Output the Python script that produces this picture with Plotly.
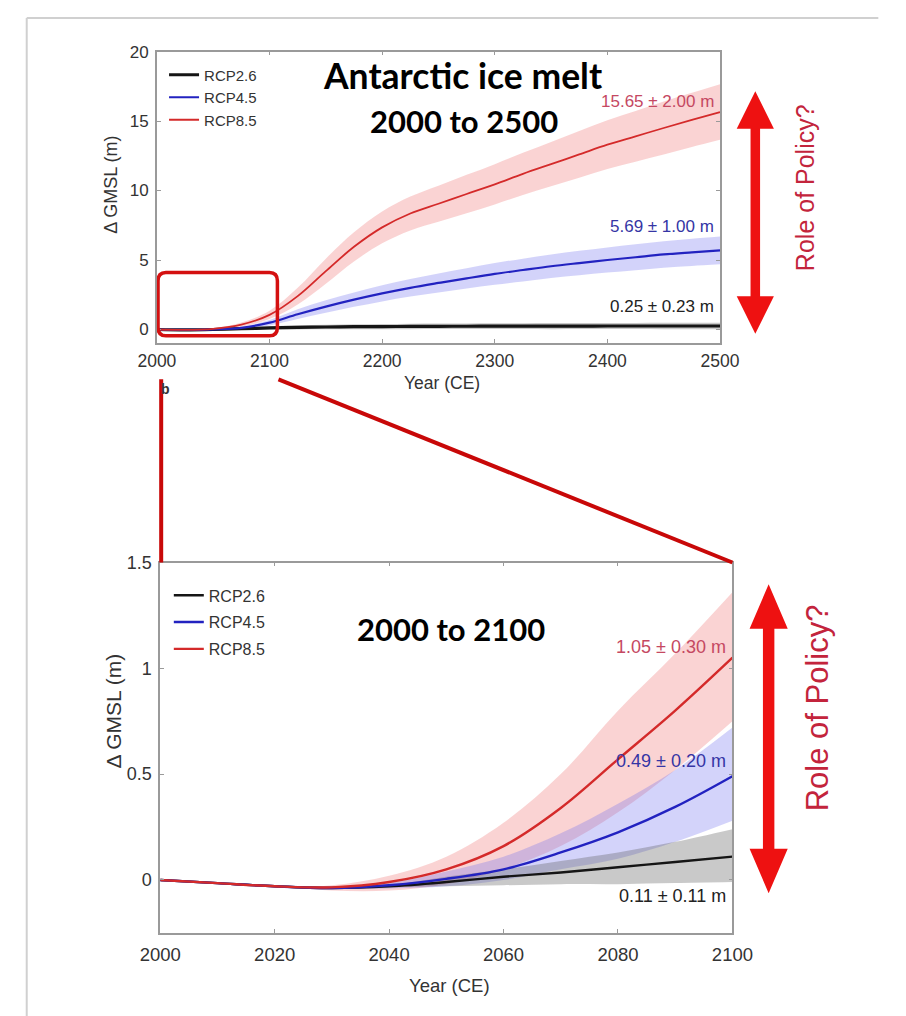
import plotly.graph_objects as go

W, H = 906, 1016

# ---------------- data ----------------
years_top = [2000, 2025, 2050, 2075, 2100, 2125, 2150, 2175, 2200, 2225, 2250, 2275, 2300,
             2325, 2350, 2375, 2400, 2425, 2450, 2475, 2500]
rcp26_top = [0, -0.03, 0.0, 0.06, 0.11, 0.15, 0.18, 0.20, 0.21, 0.22, 0.23, 0.235, 0.24,
             0.243, 0.245, 0.248, 0.25, 0.25, 0.25, 0.25, 0.25]
rcp45_top = [0, -0.03, 0.01, 0.12, 0.49, 1.10, 1.65, 2.15, 2.60, 3.00, 3.35, 3.68, 4.00,
             4.28, 4.55, 4.78, 5.00, 5.20, 5.40, 5.55, 5.69]
rcp85_top = [0, -0.03, 0.05, 0.35, 1.05, 2.40, 4.20, 5.95, 7.35, 8.35, 9.05, 9.75, 10.45,
             11.20, 11.90, 12.60, 13.30, 13.90, 14.50, 15.08, 15.65]
rcp26_unc_top = [0, 0.01, 0.02, 0.05, 0.11, 0.15, 0.17, 0.18, 0.19, 0.20, 0.20, 0.20, 0.21,
                 0.21, 0.22, 0.22, 0.22, 0.22, 0.23, 0.23, 0.23]
rcp45_unc_top = [0, 0.01, 0.03, 0.08, 0.20, 0.35, 0.45, 0.52, 0.58, 0.63, 0.68, 0.73, 0.78,
                 0.82, 0.85, 0.88, 0.90, 0.93, 0.95, 0.98, 1.00]
rcp85_unc_top = [0, 0.01, 0.05, 0.15, 0.30, 0.60, 0.90, 1.05, 1.15, 1.22, 1.30, 1.38, 1.45,
                 1.52, 1.60, 1.68, 1.75, 1.82, 1.90, 1.95, 2.00]

years_bot = [2000, 2010, 2020, 2030, 2040, 2050, 2060, 2070, 2080, 2090, 2100]
rcp26_bot = [0, -0.015, -0.03, -0.038, -0.03, -0.01, 0.015, 0.035, 0.06, 0.085, 0.11]
rcp45_bot = [0, -0.015, -0.03, -0.038, -0.025, 0.005, 0.05, 0.13, 0.225, 0.345, 0.49]
rcp85_bot = [0, -0.015, -0.03, -0.035, -0.01, 0.05, 0.16, 0.34, 0.57, 0.80, 1.05]
rcp26_lo_bot = [0, -0.015, -0.03, -0.04, -0.035, -0.03, -0.025, -0.02, -0.02, -0.015, -0.01]
rcp26_hi_bot = [0, -0.015, -0.03, -0.036, -0.025, 0.015, 0.05, 0.09, 0.13, 0.18, 0.24]
rcp45_lo_bot = [0, -0.015, -0.03, -0.04, -0.04, -0.03, 0.0, 0.05, 0.10, 0.18, 0.28]
rcp45_hi_bot = [0, -0.015, -0.03, -0.036, -0.015, 0.04, 0.11, 0.22, 0.36, 0.52, 0.72]
rcp85_lo_bot = [0, -0.015, -0.03, -0.05, -0.05, -0.02, 0.05, 0.16, 0.32, 0.52, 0.75]
rcp85_hi_bot = [0, -0.015, -0.03, -0.025, 0.02, 0.11, 0.27, 0.50, 0.80, 1.07, 1.36]

labels_top = ["15.65 ± 2.00 m", "5.69 ± 1.00 m", "0.25 ± 0.23 m"]
labels_bot = ["1.05 ± 0.30 m", "0.49 ± 0.20 m", "0.11 ± 0.11 m"]
scenarios = ["RCP2.6", "RCP4.5", "RCP8.5"]

# ---------------- styles ----------------
LINE_C = {"RCP2.6": "#151515", "RCP4.5": "#2222c0", "RCP8.5": "#d42a2a"}
BAND_C = {"RCP2.6": "rgba(90,90,90,0.33)", "RCP4.5": "rgba(110,110,240,0.30)", "RCP8.5": "rgba(240,110,110,0.30)"}
TXT_C = {"RCP2.6": "#222222", "RCP4.5": "#3535a5", "RCP8.5": "#c54862"}
ARIAL = "Arial, Liberation Sans, sans-serif"
CAL = "Lato, Carlito, Calibri, sans-serif"


def X(px):
    return px / W


def Y(py):
    return 1 - py / H


fig = go.Figure()

# top panel bands + lines
top_series = {"RCP2.6": (rcp26_top, rcp26_unc_top), "RCP4.5": (rcp45_top, rcp45_unc_top),
              "RCP8.5": (rcp85_top, rcp85_unc_top)}
for name in ["RCP8.5", "RCP4.5", "RCP2.6"]:
    v, u = top_series[name]
    lo = [a - b for a, b in zip(v, u)]
    hi = [a + b for a, b in zip(v, u)]
    fig.add_trace(go.Scatter(x=years_top, y=lo, mode="lines", line=dict(width=0, shape="spline"),
                             showlegend=False, hoverinfo="skip", xaxis="x", yaxis="y"))
    fig.add_trace(go.Scatter(x=years_top, y=hi, mode="lines", line=dict(width=0, shape="spline"),
                             fill="tonexty", fillcolor=BAND_C[name], showlegend=False,
                             hoverinfo="skip", xaxis="x", yaxis="y"))
widths_top = {"RCP2.6": 3.2, "RCP4.5": 2.2, "RCP8.5": 1.8}
for name in scenarios:
    v, _ = top_series[name]
    fig.add_trace(go.Scatter(x=years_top, y=v, mode="lines", name=name,
                             line=dict(color=LINE_C[name], width=widths_top[name], shape="spline"),
                             xaxis="x", yaxis="y", legend="legend"))

# bottom panel
bot_series = {"RCP2.6": (rcp26_bot, rcp26_lo_bot, rcp26_hi_bot),
              "RCP4.5": (rcp45_bot, rcp45_lo_bot, rcp45_hi_bot),
              "RCP8.5": (rcp85_bot, rcp85_lo_bot, rcp85_hi_bot)}
for name in ["RCP8.5", "RCP4.5", "RCP2.6"]:
    v, lo, hi = bot_series[name]
    fig.add_trace(go.Scatter(x=years_bot, y=lo, mode="lines", line=dict(width=0, shape="spline"),
                             showlegend=False, hoverinfo="skip", xaxis="x2", yaxis="y2"))
    fig.add_trace(go.Scatter(x=years_bot, y=hi, mode="lines", line=dict(width=0, shape="spline"),
                             fill="tonexty", fillcolor=BAND_C[name], showlegend=False,
                             hoverinfo="skip", xaxis="x2", yaxis="y2"))
for name in scenarios:
    v, _, _ = bot_series[name]
    fig.add_trace(go.Scatter(x=years_bot, y=v, mode="lines", name=name, legendgroup="b" + name,
                             line=dict(color=LINE_C[name], width=2.4, shape="spline"),
                             xaxis="x2", yaxis="y2", legend="legend2"))


def axis_style(size):
    return dict(showline=True, linecolor="#9a9a9a", linewidth=1.5, mirror="ticks",
                ticks="inside", ticklen=4, tickcolor="#9a9a9a", showgrid=False, zeroline=False,
                tickfont=dict(family=ARIAL, size=size, color="#333333"))


fig.update_layout(
    width=W, height=H, margin=dict(l=0, r=0, t=0, b=0),
    paper_bgcolor="white", plot_bgcolor="white",
    xaxis=dict(domain=[X(142.5), X(733)], range=[2000, 2500], tickvals=[2000, 2100, 2200, 2300, 2400, 2500],
               anchor="y", ticklabelstandoff=2, **axis_style(17.5)),
    yaxis=dict(domain=[Y(336), Y(42)], range=[-0.95, 20], tickvals=[0, 5, 10, 15, 20],
               anchor="x", ticklabelstandoff=3, **axis_style(17)),
    xaxis2=dict(domain=[X(146), X(746)], range=[2000, 2100], tickvals=list(range(2000, 2101, 20)),
                anchor="y2", ticklabelstandoff=4, **axis_style(18.5)),
    yaxis2=dict(domain=[Y(932), Y(558)], range=[-0.25, 1.5], tickvals=[0, 0.5, 1, 1.5],
                ticktext=["0", "0.5", "1", "1.5"], anchor="x2", ticklabelstandoff=3, **axis_style(18)),
    legend=dict(x=X(150), y=Y(49), xanchor="left", yanchor="top", bgcolor="rgba(0,0,0,0)",
                font=dict(family=ARIAL, size=15, color="#333333"),
                itemwidth=30, traceorder="normal"),
    legend2=dict(x=X(155), y=Y(574), xanchor="left", yanchor="top", bgcolor="rgba(0,0,0,0)",
                 font=dict(family=ARIAL, size=16, color="#333333"), tracegroupgap=3,
                 itemwidth=30, traceorder="grouped"),
    showlegend=True,
)

ann = []


def text(s, px, py, size, color, family=ARIAL, xanchor="center", bold=False, angle=0):
    ann.append(dict(text=("<b>%s</b>" % s) if bold else s, x=X(px), y=Y(py), xref="paper", yref="paper",
                    xanchor=xanchor, yanchor="middle", showarrow=False, textangle=angle,
                    font=dict(family=family, size=size, color=color)))


text("Antarctic ice melt", 463, 66, 35.5, "#000000", family=CAL, bold=True)
text("2000 to 2500", 465, 112, 31, "#000000", family=CAL, bold=True)
text("2000 to 2100", 451, 625, 31, "#000000", family=CAL, bold=True)

for s, py, name in zip(labels_top, [92, 219, 299], ["RCP8.5", "RCP4.5", "RCP2.6"]):
    text(s, 729, py, 17, TXT_C[name], xanchor="right")
for s, py, name in zip(labels_bot, [643, 758, 895], ["RCP8.5", "RCP4.5", "RCP2.6"]):
    text(s, 741, py, 18, TXT_C[name], xanchor="right")

text("Year (CE)", 441, 377, 17.5, "#333333")
text("Year (CE)", 449, 985, 18.5, "#333333")
text("Δ GMSL (m)", 95, 177, 18, "#333333", angle=-90)
text("Δ GMSL (m)", 97, 708, 21, "#333333", angle=-90)
text("Role of Policy?", 822, 179, 25, "#c3243c", angle=-90)
text("Role of Policy?", 835, 705, 31, "#c3243c", angle=-90)
text("b", 152, 383, 14, "#333333", bold=True)

fig.update_layout(annotations=ann)

shapes = []


def arrow(cx, top, bottom, hw, hl, sw):
    pts = [(cx, top), (cx + hw, top + hl), (cx + sw, top + hl), (cx + sw, bottom - hl),
           (cx + hw, bottom - hl), (cx, bottom), (cx - hw, bottom - hl), (cx - sw, bottom - hl),
           (cx - sw, top + hl), (cx - hw, top + hl)]
    path = "M " + " L ".join("%.5f,%.5f" % (X(a), Y(b)) for a, b in pts) + " Z"
    shapes.append(dict(type="path", path=path, xref="paper", yref="paper",
                       fillcolor="#ee1111", line=dict(width=0)))


arrow(770, 82, 327, 19.5, 38, 5)
arrow(784, 580, 892, 20, 45, 6)

# zoom box on top panel (data coordinates)
bx0, bx1, by0, by1 = 2001, 2107, -0.45, 4.1
rx, ry = 7.0, 0.6
box = ("M {a},{y0} L {b},{y0} Q {x1},{y0} {x1},{c} L {x1},{d} Q {x1},{y1} {b},{y1} "
       "L {a},{y1} Q {x0},{y1} {x0},{d} L {x0},{c} Q {x0},{y0} {a},{y0} Z").format(
    a=bx0 + rx, b=bx1 - rx, c=by0 + ry, d=by1 - ry, x0=bx0, x1=bx1, y0=by0, y1=by1)
shapes.append(dict(type="path", path=box, xref="x", yref="y", line=dict(color="#d41010", width=3.5)))

# connector lines
shapes.append(dict(type="line", xref="paper", yref="paper", x0=X(147), y0=Y(373), x1=X(147), y1=Y(558),
                   line=dict(color="#c80808", width=4)))
shapes.append(dict(type="line", xref="paper", yref="paper", x0=X(270), y0=Y(373), x1=X(746), y1=Y(558),
                   line=dict(color="#c80808", width=4)))
# outer frame
shapes.append(dict(type="line", xref="paper", yref="paper", x0=X(6), y0=Y(8), x1=X(6), y1=Y(1016),
                   line=dict(color="#d0d0d0", width=2)))
shapes.append(dict(type="line", xref="paper", yref="paper", x0=X(6), y0=Y(8), x1=X(899), y1=Y(8),
                   line=dict(color="#d0d0d0", width=2)))
fig.update_layout(shapes=shapes)

fig.write_html("out.html", config={"displayModeBar": False},
               post_script="document.body.style.margin='0';document.body.style.overflow='hidden';")
